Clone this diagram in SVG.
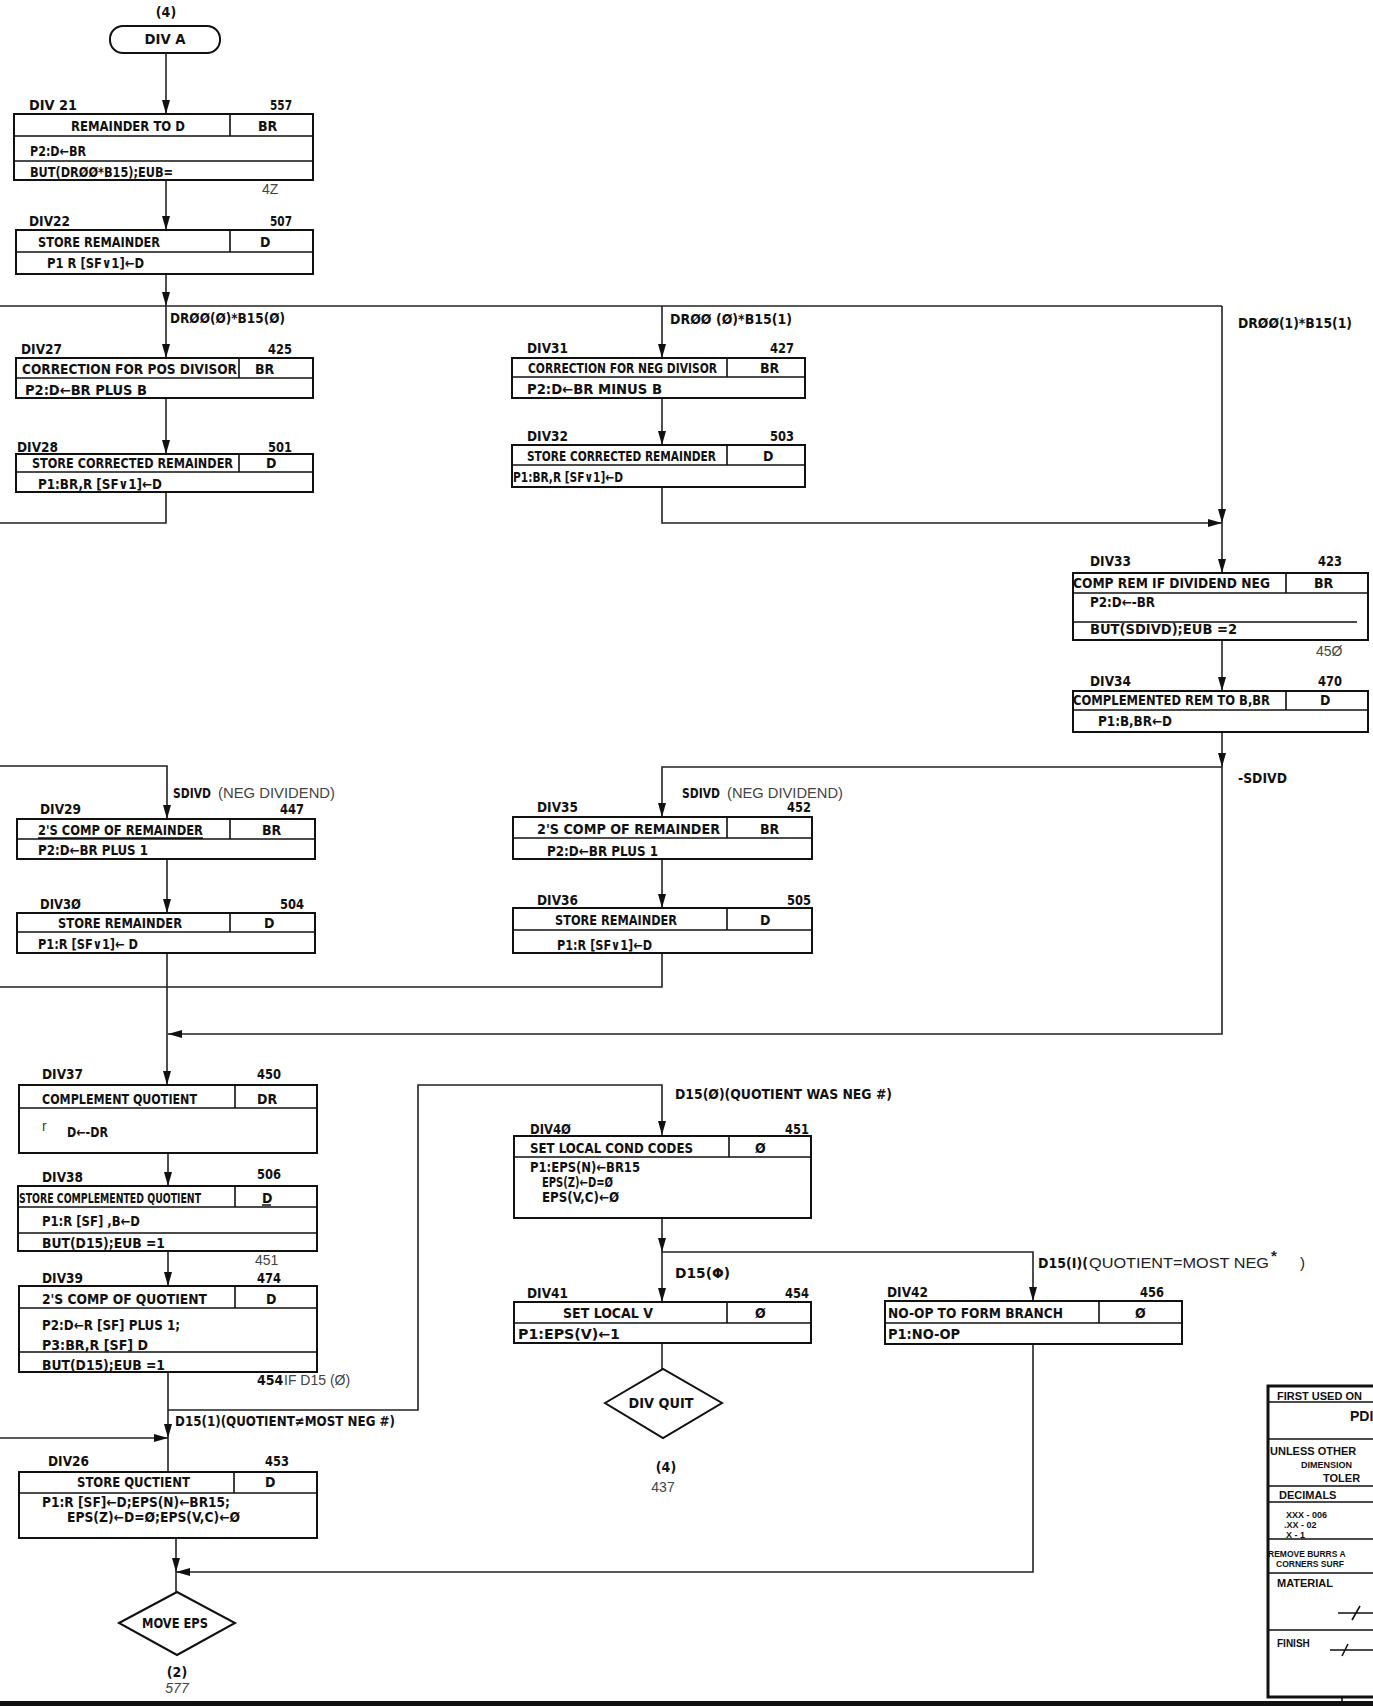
<svg xmlns="http://www.w3.org/2000/svg" width="1373" height="1706" viewBox="0 0 1373 1706">
<style>
.t{font-family:"DejaVu Sans Condensed","Liberation Sans Narrow","Liberation Sans",sans-serif;font-weight:bold;font-size:14px;fill:#111}
.h{font-family:"Liberation Sans","DejaVu Sans",sans-serif;font-size:14px;fill:#444}
.n{font-family:"Liberation Sans","DejaVu Sans",sans-serif;font-size:15px;fill:#222}
.m{text-anchor:middle}
.box{fill:#fff;stroke:#111;stroke-width:2}
.ln{stroke:#111;stroke-width:1.6;fill:none}
.c{stroke:#222;stroke-width:1.6;fill:none}
.tb{font-family:"Liberation Sans","DejaVu Sans",sans-serif;font-weight:bold;fill:#111}
</style>
<defs>
<marker id="ah" markerUnits="userSpaceOnUse" markerWidth="14" markerHeight="8" viewBox="0 0 14 8" refX="14" refY="4" orient="auto"><path d="M0,0 L14,4 L0,8 Z" fill="#111"/></marker>
</defs>
<rect width="1373" height="1706" fill="#fff"/>

<g id="connectors">
<path class="c" d="M166,53 V114" marker-end="url(#ah)"/>
<path class="c" d="M166,180 V230" marker-end="url(#ah)"/>
<path class="c" d="M166,274 V306" marker-end="url(#ah)"/>
<path class="c" d="M0,306 H1222"/>
<path class="c" d="M166,306 V358" marker-end="url(#ah)"/>
<path class="c" d="M166,398 V454" marker-end="url(#ah)"/>
<path class="c" d="M166,492 V523 H0"/>
<path class="c" d="M662,306 V358" marker-end="url(#ah)"/>
<path class="c" d="M662,398 V445" marker-end="url(#ah)"/>
<path class="c" d="M662,487 V523 H1222" marker-end="url(#ah)"/>
<path class="c" d="M1222,306 V523" marker-end="url(#ah)"/>
<path class="c" d="M1222,523 V573" marker-end="url(#ah)"/>
<path class="c" d="M1222,640 V691" marker-end="url(#ah)"/>
<path class="c" d="M1222,732 V767" marker-end="url(#ah)"/>
<path class="c" d="M1222,767 V1034 H168" marker-end="url(#ah)"/>
<path class="c" d="M1222,767 H662 V817" marker-end="url(#ah)"/>
<path class="c" d="M0,766 H167 V819" marker-end="url(#ah)"/>
<path class="c" d="M167,859 V913" marker-end="url(#ah)"/>
<path class="c" d="M167,953 V1085" marker-end="url(#ah)"/>
<path class="c" d="M662,859 V908" marker-end="url(#ah)"/>
<path class="c" d="M662,953 V987 H0"/>
<path class="c" d="M168,1153 V1186" marker-end="url(#ah)"/>
<path class="c" d="M168,1251 V1286" marker-end="url(#ah)"/>
<path class="c" d="M168,1372 V1438" marker-end="url(#ah)"/>
<path class="c" d="M168,1438 V1472"/>
<path class="c" d="M168,1410 H418 V1085 H662 V1135" marker-end="url(#ah)"/>
<path class="c" d="M0,1438 H168" marker-end="url(#ah)"/>
<path class="c" d="M662,1218 V1252" marker-end="url(#ah)"/>
<path class="c" d="M662,1252 V1302" marker-end="url(#ah)"/>
<path class="c" d="M662,1252 H1033 V1301" marker-end="url(#ah)"/>
<path class="c" d="M662,1343 V1369"/>
<path class="c" d="M1033,1344 V1572 H176" marker-end="url(#ah)"/>
<path class="c" d="M176,1538 V1572" marker-end="url(#ah)"/>
<path class="c" d="M176,1572 V1592"/>
</g>

<g id="conn-labels">
<text class="t" x="170" y="323" textLength="115" lengthAdjust="spacingAndGlyphs">DRØØ(Ø)*B15(Ø)</text>
<text class="t" x="670" y="324" textLength="122" lengthAdjust="spacingAndGlyphs">DRØØ (Ø)*B15(1)</text>
<text class="t" x="1238" y="328" textLength="114" lengthAdjust="spacingAndGlyphs">DRØØ(1)*B15(1)</text>
<text class="t" x="1238" y="783" textLength="49" lengthAdjust="spacingAndGlyphs">-SDIVD</text>
<text class="t" x="173" y="798" textLength="38" lengthAdjust="spacingAndGlyphs">SDIVD</text>
<text class="h" x="218" y="798" textLength="117" lengthAdjust="spacingAndGlyphs">(NEG DIVIDEND)</text>
<text class="t" x="682" y="798" textLength="38" lengthAdjust="spacingAndGlyphs">SDIVD</text>
<text class="h" x="727" y="798" textLength="116" lengthAdjust="spacingAndGlyphs">(NEG DIVIDEND)</text>
<text class="t" x="675" y="1099" textLength="217" lengthAdjust="spacingAndGlyphs">D15(Ø)(QUOTIENT WAS NEG #)</text>
<text class="t" x="675" y="1278" textLength="55" lengthAdjust="spacingAndGlyphs">D15(Φ)</text>
<text class="t" x="1038" y="1268" textLength="50" lengthAdjust="spacingAndGlyphs">D15(I)(</text>
<text class="n" x="1089" y="1268" textLength="180" lengthAdjust="spacingAndGlyphs">QUOTIENT=MOST NEG</text>
<text class="n" x="1271" y="1261" font-size="12" font-weight="bold">*</text>
<text class="n" x="1300" y="1268">)</text>
<text class="t" x="175" y="1426" textLength="220" lengthAdjust="spacingAndGlyphs">D15(1)(QUOTIENT≠MOST NEG #)</text>
</g>

<g id="notes">
<text class="h" x="262" y="194" font-size="13">4Z</text>
<text class="h" x="1316" y="656" font-size="13">45Ø</text>
<text class="h" x="255" y="1265" font-size="13">451</text>
<text class="t" x="257" y="1385" font-size="11">454</text>
<text class="h" x="284" y="1385" font-size="9">IF D15 (Ø)</text>
</g>

<g id="divA">
<rect class="box" x="110" y="26" width="110" height="27" rx="13"/>
<text class="t m" x="166" y="17">(4)</text>
<text class="t m" x="165" y="44" textLength="41" lengthAdjust="spacingAndGlyphs">DIV A</text>
</g>

<g id="div21">
<rect class="box" x="14" y="114" width="299" height="66"/>
<path class="ln" d="M14,136 H313 M14,161 H313 M230,114 V136"/>
<text class="t" x="29" y="110" textLength="48" lengthAdjust="spacingAndGlyphs">DIV 21</text>
<text class="t" x="270" y="110" textLength="22" lengthAdjust="spacingAndGlyphs">557</text>
<text class="t" x="71" y="131" textLength="114" lengthAdjust="spacingAndGlyphs">REMAINDER TO D</text>
<text class="t" x="258" y="131">BR</text>
<text class="t" x="30" y="156" textLength="56" lengthAdjust="spacingAndGlyphs">P2:D←BR</text>
<text class="t" x="30" y="177" textLength="143" lengthAdjust="spacingAndGlyphs">BUT(DRØØ*B15);EUB=</text>
</g>

<g id="div22">
<rect class="box" x="16" y="230" width="297" height="44"/>
<path class="ln" d="M16,252 H313 M230,230 V252"/>
<text class="t" x="29" y="226" textLength="41" lengthAdjust="spacingAndGlyphs">DIV22</text>
<text class="t" x="270" y="226" textLength="22" lengthAdjust="spacingAndGlyphs">507</text>
<text class="t" x="38" y="247" textLength="122" lengthAdjust="spacingAndGlyphs">STORE REMAINDER</text>
<text class="t" x="260" y="247">D</text>
<text class="t" x="47" y="268" textLength="97" lengthAdjust="spacingAndGlyphs">P1 R [SF∨1]←D</text>
</g>

<g id="div27">
<rect class="box" x="16" y="358" width="297" height="40"/>
<path class="ln" d="M16,378 H313 M239,358 V378"/>
<text class="t" x="21" y="354" textLength="41" lengthAdjust="spacingAndGlyphs">DIV27</text>
<text class="t" x="268" y="354" textLength="24" lengthAdjust="spacingAndGlyphs">425</text>
<text class="t" x="22" y="374" font-size="13" textLength="215" lengthAdjust="spacingAndGlyphs">CORRECTION FOR POS DIVISOR</text>
<text class="t" x="255" y="374">BR</text>
<text class="t" x="25" y="395" textLength="122" lengthAdjust="spacingAndGlyphs">P2:D←BR PLUS B</text>
</g>

<g id="div28">
<rect class="box" x="16" y="454" width="297" height="38"/>
<path class="ln" d="M16,472 H313 M239,454 V472"/>
<text class="t" x="17" y="452" textLength="41" lengthAdjust="spacingAndGlyphs">DIV28</text>
<text class="t" x="268" y="452" textLength="24" lengthAdjust="spacingAndGlyphs">501</text>
<text class="t" x="32" y="468" font-size="13" textLength="201" lengthAdjust="spacingAndGlyphs">STORE CORRECTED REMAINDER</text>
<text class="t" x="266" y="468">D</text>
<text class="t" x="38" y="489" textLength="124" lengthAdjust="spacingAndGlyphs">P1:BR,R [SF∨1]←D</text>
</g>

<g id="div31">
<rect class="box" x="512" y="358" width="293" height="40"/>
<path class="ln" d="M512,377 H805 M727,358 V377"/>
<text class="t" x="527" y="353" textLength="41" lengthAdjust="spacingAndGlyphs">DIV31</text>
<text class="t" x="770" y="353" textLength="24" lengthAdjust="spacingAndGlyphs">427</text>
<text class="t" x="528" y="373" font-size="12" textLength="189" lengthAdjust="spacingAndGlyphs">CORRECTION FOR NEG DIVISOR</text>
<text class="t" x="760" y="373">BR</text>
<text class="t" x="527" y="394" textLength="135" lengthAdjust="spacingAndGlyphs">P2:D←BR MINUS B</text>
</g>

<g id="div32">
<rect class="box" x="512" y="445" width="293" height="42"/>
<path class="ln" d="M512,465 H805 M727,445 V465"/>
<text class="t" x="527" y="441" textLength="41" lengthAdjust="spacingAndGlyphs">DIV32</text>
<text class="t" x="770" y="441" textLength="24" lengthAdjust="spacingAndGlyphs">503</text>
<text class="t" x="527" y="461" font-size="12" textLength="189" lengthAdjust="spacingAndGlyphs">STORE CORRECTED REMAINDER</text>
<text class="t" x="763" y="461">D</text>
<text class="t" x="513" y="482" textLength="110" lengthAdjust="spacingAndGlyphs">P1:BR,R [SF∨1]←D</text>
</g>

<g id="div33">
<rect class="box" x="1073" y="573" width="295" height="67"/>
<path class="ln" d="M1073,593 H1368 M1073,622 H1357 M1286,573 V593"/>
<text class="t" x="1090" y="566" textLength="41" lengthAdjust="spacingAndGlyphs">DIV33</text>
<text class="t" x="1318" y="566" textLength="24" lengthAdjust="spacingAndGlyphs">423</text>
<text class="t" x="1073" y="588" textLength="197" lengthAdjust="spacingAndGlyphs">COMP REM IF DIVIDEND NEG</text>
<text class="t" x="1314" y="588">BR</text>
<text class="t" x="1090" y="607" textLength="65" lengthAdjust="spacingAndGlyphs">P2:D←-BR</text>
<text class="t" x="1090" y="634" textLength="147" lengthAdjust="spacingAndGlyphs">BUT(SDIVD);EUB =2</text>
</g>

<g id="div34">
<rect class="box" x="1073" y="691" width="295" height="41"/>
<path class="ln" d="M1073,710 H1368 M1286,691 V710"/>
<text class="t" x="1090" y="686" textLength="41" lengthAdjust="spacingAndGlyphs">DIV34</text>
<text class="t" x="1318" y="686" textLength="24" lengthAdjust="spacingAndGlyphs">470</text>
<text class="t" x="1073" y="705" textLength="197" lengthAdjust="spacingAndGlyphs">COMPLEMENTED REM TO B,BR</text>
<text class="t" x="1320" y="705">D</text>
<text class="t" x="1098" y="726" textLength="74" lengthAdjust="spacingAndGlyphs">P1:B,BR←D</text>
</g>

<g id="div29">
<rect class="box" x="17" y="819" width="298" height="40"/>
<path class="ln" d="M17,839 H315 M230,819 V839 M38,838 H203"/>
<text class="t" x="40" y="814" textLength="41" lengthAdjust="spacingAndGlyphs">DIV29</text>
<text class="t" x="280" y="814" textLength="24" lengthAdjust="spacingAndGlyphs">447</text>
<text class="t" x="38" y="835" textLength="165" lengthAdjust="spacingAndGlyphs">2'S COMP OF REMAINDER</text>
<text class="t" x="262" y="835">BR</text>
<text class="t" x="38" y="855" textLength="110" lengthAdjust="spacingAndGlyphs">P2:D←BR PLUS 1</text>
</g>

<g id="div30">
<rect class="box" x="17" y="913" width="298" height="40"/>
<path class="ln" d="M17,932 H315 M230,913 V932"/>
<text class="t" x="40" y="909" textLength="41" lengthAdjust="spacingAndGlyphs">DIV3Ø</text>
<text class="t" x="280" y="909" textLength="24" lengthAdjust="spacingAndGlyphs">504</text>
<text class="t" x="58" y="928" textLength="124" lengthAdjust="spacingAndGlyphs">STORE REMAINDER</text>
<text class="t" x="264" y="928">D</text>
<text class="t" x="38" y="949" textLength="100" lengthAdjust="spacingAndGlyphs">P1:R [SF∨1]← D</text>
</g>

<g id="div35">
<rect class="box" x="513" y="817" width="299" height="42"/>
<path class="ln" d="M513,838 H812 M727,817 V838"/>
<text class="t" x="537" y="812" textLength="41" lengthAdjust="spacingAndGlyphs">DIV35</text>
<text class="t" x="787" y="812" textLength="24" lengthAdjust="spacingAndGlyphs">452</text>
<text class="t" x="537" y="834" textLength="183" lengthAdjust="spacingAndGlyphs">2'S  COMP OF REMAINDER</text>
<text class="t" x="760" y="834">BR</text>
<text class="t" x="547" y="856" textLength="111" lengthAdjust="spacingAndGlyphs">P2:D←BR PLUS 1</text>
</g>

<g id="div36">
<rect class="box" x="513" y="908" width="299" height="45"/>
<path class="ln" d="M513,930 H812 M727,908 V930"/>
<text class="t" x="537" y="905" textLength="41" lengthAdjust="spacingAndGlyphs">DIV36</text>
<text class="t" x="787" y="905" textLength="24" lengthAdjust="spacingAndGlyphs">505</text>
<text class="t" x="555" y="925" textLength="122" lengthAdjust="spacingAndGlyphs">STORE REMAINDER</text>
<text class="t" x="760" y="925">D</text>
<text class="t" x="557" y="950" textLength="95" lengthAdjust="spacingAndGlyphs">P1:R [SF∨1]←D</text>
</g>

<g id="div37">
<rect class="box" x="19" y="1085" width="298" height="68"/>
<path class="ln" d="M19,1108 H317 M235,1085 V1108"/>
<text class="t" x="42" y="1079" textLength="41" lengthAdjust="spacingAndGlyphs">DIV37</text>
<text class="t" x="257" y="1079" textLength="24" lengthAdjust="spacingAndGlyphs">450</text>
<text class="t" x="42" y="1104" textLength="155" lengthAdjust="spacingAndGlyphs">COMPLEMENT QUOTIENT</text>
<text class="t" x="257" y="1104">DR</text>
<text class="h" x="42" y="1131" font-size="9">r</text>
<text class="t" x="67" y="1137" textLength="41" lengthAdjust="spacingAndGlyphs">D←-DR</text>
</g>

<g id="div38">
<rect class="box" x="18" y="1186" width="299" height="65"/>
<path class="ln" d="M18,1207 H317 M18,1233 H317 M235,1186 V1207 M262,1205 H271"/>
<text class="t" x="42" y="1182" textLength="41" lengthAdjust="spacingAndGlyphs">DIV38</text>
<text class="t" x="257" y="1179" font-size="12" textLength="24" lengthAdjust="spacingAndGlyphs">506</text>
<text class="t" x="19" y="1203" font-size="11" textLength="182" lengthAdjust="spacingAndGlyphs">STORE COMPLEMENTED QUOTIENT</text>
<text class="t" x="262" y="1203" font-size="11">D</text>
<text class="t" x="42" y="1226" textLength="98" lengthAdjust="spacingAndGlyphs">P1:R [SF] ,B←D</text>
<text class="t" x="42" y="1248" textLength="123" lengthAdjust="spacingAndGlyphs">BUT(D15);EUB =1</text>
</g>

<g id="div39">
<rect class="box" x="19" y="1286" width="298" height="86"/>
<path class="ln" d="M19,1308 H317 M19,1352 H317 M235,1286 V1308"/>
<text class="t" x="42" y="1283" textLength="41" lengthAdjust="spacingAndGlyphs">DIV39</text>
<text class="t" x="257" y="1283" textLength="24" lengthAdjust="spacingAndGlyphs">474</text>
<text class="t" x="42" y="1304" textLength="165" lengthAdjust="spacingAndGlyphs">2'S COMP OF QUOTIENT</text>
<text class="t" x="266" y="1304">D</text>
<text class="t" x="42" y="1330" textLength="138" lengthAdjust="spacingAndGlyphs">P2:D←R [SF] PLUS 1;</text>
<text class="t" x="42" y="1350" textLength="106" lengthAdjust="spacingAndGlyphs">P3:BR,R [SF] D</text>
<text class="t" x="42" y="1370" textLength="123" lengthAdjust="spacingAndGlyphs">BUT(D15);EUB =1</text>
</g>

<g id="div26">
<rect class="box" x="19" y="1472" width="298" height="66"/>
<path class="ln" d="M19,1493 H317 M234,1472 V1493"/>
<text class="t" x="48" y="1466" textLength="41" lengthAdjust="spacingAndGlyphs">DIV26</text>
<text class="t" x="265" y="1466" textLength="24" lengthAdjust="spacingAndGlyphs">453</text>
<text class="t" x="77" y="1487" textLength="113" lengthAdjust="spacingAndGlyphs">STORE QUCTIENT</text>
<text class="t" x="265" y="1487">D</text>
<text class="t" x="42" y="1507" textLength="188" lengthAdjust="spacingAndGlyphs">P1:R [SF]←D;EPS(N)←BR15;</text>
<text class="t" x="67" y="1522" textLength="173" lengthAdjust="spacingAndGlyphs">EPS(Z)←D=Ø;EPS(V,C)←Ø</text>
</g>

<g id="div40">
<rect class="box" x="514" y="1136" width="297" height="82"/>
<path class="ln" d="M514,1157 H811 M729,1136 V1157"/>
<text class="t" x="530" y="1134" textLength="41" lengthAdjust="spacingAndGlyphs">DIV4Ø</text>
<text class="t" x="785" y="1134" textLength="24" lengthAdjust="spacingAndGlyphs">451</text>
<text class="t" x="530" y="1153" textLength="163" lengthAdjust="spacingAndGlyphs">SET LOCAL COND CODES</text>
<text class="t" x="755" y="1153">Ø</text>
<text class="t" x="530" y="1172" textLength="110" lengthAdjust="spacingAndGlyphs">P1:EPS(N)←BR15</text>
<text class="t" x="542" y="1187" textLength="71" lengthAdjust="spacingAndGlyphs">EPS(Z)←D=Ø</text>
<text class="t" x="542" y="1202" textLength="77" lengthAdjust="spacingAndGlyphs">EPS(V,C)←Ø</text>
</g>

<g id="div41">
<rect class="box" x="514" y="1302" width="297" height="41"/>
<path class="ln" d="M514,1323 H811 M727,1302 V1323"/>
<text class="t" x="527" y="1298" textLength="41" lengthAdjust="spacingAndGlyphs">DIV41</text>
<text class="t" x="785" y="1298" textLength="24" lengthAdjust="spacingAndGlyphs">454</text>
<text class="t" x="563" y="1318" textLength="90" lengthAdjust="spacingAndGlyphs">SET LOCAL V</text>
<text class="t" x="755" y="1318">Ø</text>
<text class="t" x="518" y="1339" textLength="102" lengthAdjust="spacingAndGlyphs">P1:EPS(V)←1</text>
</g>

<g id="div42">
<rect class="box" x="885" y="1301" width="297" height="43"/>
<path class="ln" d="M885,1323 H1182 M1099,1301 V1323"/>
<text class="t" x="887" y="1297" textLength="41" lengthAdjust="spacingAndGlyphs">DIV42</text>
<text class="t" x="1140" y="1297" textLength="24" lengthAdjust="spacingAndGlyphs">456</text>
<text class="t" x="888" y="1318" textLength="175" lengthAdjust="spacingAndGlyphs">NO-OP TO FORM BRANCH</text>
<text class="t" x="1135" y="1318">Ø</text>
<text class="t" x="888" y="1339" textLength="72" lengthAdjust="spacingAndGlyphs">P1:NO-OP</text>
</g>

<g id="divquit">
<polygon class="box" points="605,1403 663,1369 722,1403 663,1438"/>
<text class="t m" x="661" y="1408" textLength="65" lengthAdjust="spacingAndGlyphs">DIV QUIT</text>
<text class="t m" x="666" y="1472">(4)</text>
<text class="h m" x="663" y="1492">437</text>
</g>

<g id="moveeps">
<polygon class="box" points="119,1623 177,1592 235,1623 177,1655"/>
<text class="t m" x="175" y="1628" textLength="66" lengthAdjust="spacingAndGlyphs">MOVE EPS</text>
<text class="t m" x="177" y="1677">(2)</text>
<text class="h m" x="177" y="1693" font-style="italic">577</text>
</g>

<g id="titleblock">
<rect x="1268" y="1386" width="110" height="311" fill="#fff" stroke="#111" stroke-width="3"/>
<path class="ln" d="M1268,1402 H1373 M1268,1439 H1373 M1268,1486 H1373 M1268,1502 H1373 M1268,1539 H1373 M1268,1573 H1373 M1268,1630 H1373"/>
<text class="tb" x="1277" y="1400" font-size="11">FIRST USED ON</text>
<text class="tb" x="1350" y="1421" font-size="14" font-weight="normal">PDI</text>
<text class="tb" x="1270" y="1455" font-size="11">UNLESS OTHER</text>
<text class="tb" x="1301" y="1468" font-size="9">DIMENSION</text>
<text class="tb" x="1323" y="1482" font-size="11">TOLER</text>
<text class="tb" x="1279" y="1499" font-size="11">DECIMALS</text>
<text class="tb" x="1286" y="1518" font-size="9">XXX - 006</text>
<text class="tb" x="1284" y="1528" font-size="9">.XX  - 02</text>
<text class="tb" x="1286" y="1538" font-size="9">X    - 1</text>
<text class="tb" x="1268" y="1557" font-size="8.5">REMOVE BURRS A</text>
<text class="tb" x="1276" y="1567" font-size="8.5">CORNERS SURF</text>
<text class="tb" x="1277" y="1587" font-size="11">MATERIAL</text>
<path class="ln" d="M1338,1613 H1373 M1352,1620 L1360,1606"/>
<text class="tb" x="1277" y="1647" font-size="10">FINISH</text>
<path class="ln" d="M1330,1650 H1373 M1342,1656 L1348,1644"/>
</g>

<g id="border">
<rect x="0" y="1701" width="1373" height="5" fill="#111"/>
<path class="ln" d="M1342,1697 V1706"/>
</g>
</svg>
